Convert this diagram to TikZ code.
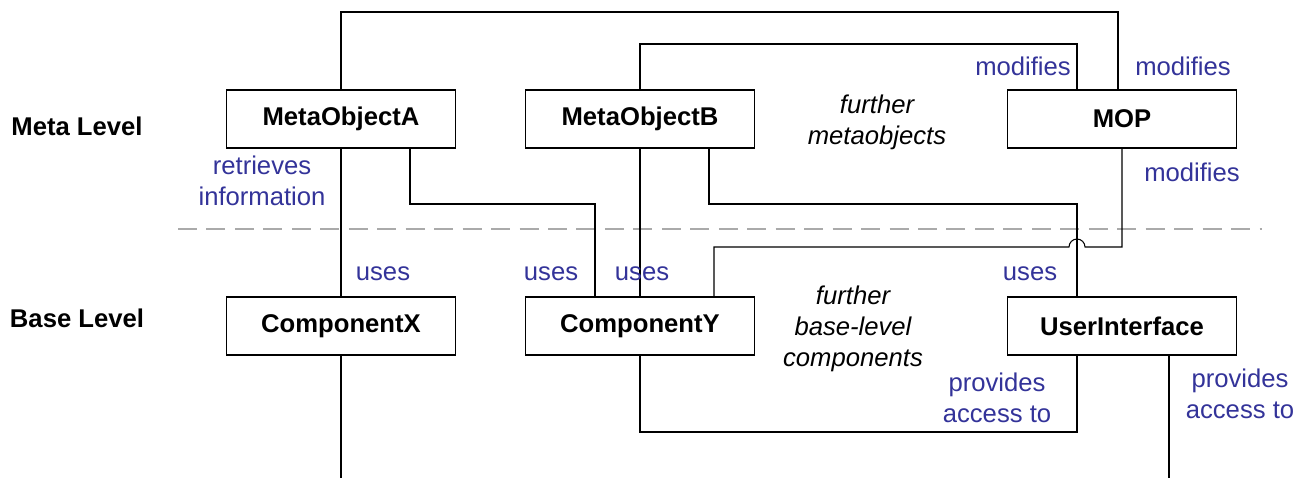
\documentclass[tikz,border=0pt]{standalone}
\usepackage{fontspec}
\setmainfont{Liberation Sans}
\usepackage{tikz}
\usetikzlibrary{calc,positioning}
\definecolor{labelblue}{RGB}{51,51,153}
\definecolor{levelgray}{RGB}{170,170,170}
\newcommand{\labelsize}{\fontsize{14.6}{17.8}\selectfont}
\tikzstyle{block} = [rectangle, draw, line width=0.6pt,
    minimum width=4.58cm, minimum height=1.16cm, font=\labelsize\bfseries]
\tikzstyle{line} = [draw, line width=0.6pt]
\tikzstyle{lbl} = [text=labelblue, align=center, font=\labelsize]
\tikzstyle{levelname} = [font=\labelsize\bfseries]
\tikzstyle{further} = [align=center, font=\labelsize\itshape]
\tikzstyle{divider} = [draw=levelgray, line width=1.6pt, dash pattern=on 10.8pt off 5.4pt]

\begin{document}
\begin{tikzpicture}[x=0.02cm, y=-0.02cm]
        \useasboundingbox (0,0) rectangle (1309,478);
        % Place nodes
        \node [block] (MetaObjectA) at (341,119) {MetaObjectA};
        \node [block] (MetaObjectB) at (640,119) {MetaObjectB};
        \node [block] (MOP) at (1122,119) {MOP};
        \node [block] (ComponentX) at (341,326) {ComponentX};
        \node [block] (ComponentY) at (640,326) {ComponentY};
        \node [block] (UserInterface) at (1122,326) {UserInterface};
        \node [levelname] (MetaLevel) at (77,126) {Meta Level};
        \node [levelname] (BaseLevel) at (77,318) {Base Level};
        \node [further] (FurtherMeta) at (877,122) {further\\metaobjects};
        \node [further] (FurtherBase) at (853,329) {further\\base-level\\components};
        % Routing levels and line ends
        \coordinate (top1) at (0,12);
        \coordinate (top2) at (0,44);
        \coordinate (mid1) at (0,204);
        \coordinate (mid2) at (0,247);
        \coordinate (low) at (0,432);
        \coordinate (floor) at (0,478);
        \coordinate (AOut) at ($(MetaObjectA.south)+(69,0)$);
        \coordinate (BOut) at ($(MetaObjectB.south)+(69,0)$);
        \coordinate (YIn) at ($(ComponentY.north)+(-45,0)$);
        \coordinate (YOut) at ($(ComponentY.north)+(74,0)$);
        \coordinate (MOPTop) at ($(MOP.north)+(-4,0)$);
        \coordinate (MOPIn) at ($(MOP.north)+(-45,0)$);
        \coordinate (UIIn) at ($(UserInterface.north)+(-45,0)$);
        \coordinate (UIOut) at ($(UserInterface.south)+(-45,0)$);
        \coordinate (UIDown) at ($(UserInterface.south)+(47,0)$);
        % Level divider
        \path [divider] (178,229) -- (1262,229);
        % Draw edges
        \path [line] (MetaObjectA.north) |- (top1 -| MOPTop) -- (MOPTop);
        \path [line] (MetaObjectA.south) -- (ComponentX.north);
        \path [line] (ComponentX.south) -- (ComponentX.south |- floor);
        \path [line] (AOut) |- (mid1 -| YIn) -- (YIn);
        \path [line] (MetaObjectB.north) |- (top2 -| MOPIn) -- (MOPIn);
        \path [line] (MetaObjectB.south) -- (ComponentY.north);
        \path [line] (BOut) |- (mid1 -| UIIn) -- (UIIn);
        \path [line] (YOut) |- ($(mid2 -| UIIn)+(-8,0)$)
            arc [start angle=180, end angle=0, radius=0.16cm] -| (MOP.south);
        \path [line] (ComponentY.south) |- (low -| UIOut) -- (UIOut);
        \path [line] (UIDown) -- (UIDown |- floor);
        % Edge labels
        \node [lbl] (modifiesB) at (1023,66) {modifies};
        \node [lbl] (modifiesA) at (1183,66) {modifies};
        \node [lbl] (modifiesY) at (1192,172) {modifies};
        \node [lbl] (retrieves) at (262,181) {retrieves\\information};
        \node [lbl] (usesX) at (383,274) {uses};
        \node [lbl] (usesA) at (551,274) {uses};
        \node [lbl] (usesB) at (642,274) {uses};
        \node [lbl] (usesUI) at (1030,274) {uses};
        \node [lbl] (accessY) at (997,398) {provides\\access to};
        \node [lbl] (accessUI) at (1240,394) {provides\\access to};
    \end{tikzpicture}
\end{document}
